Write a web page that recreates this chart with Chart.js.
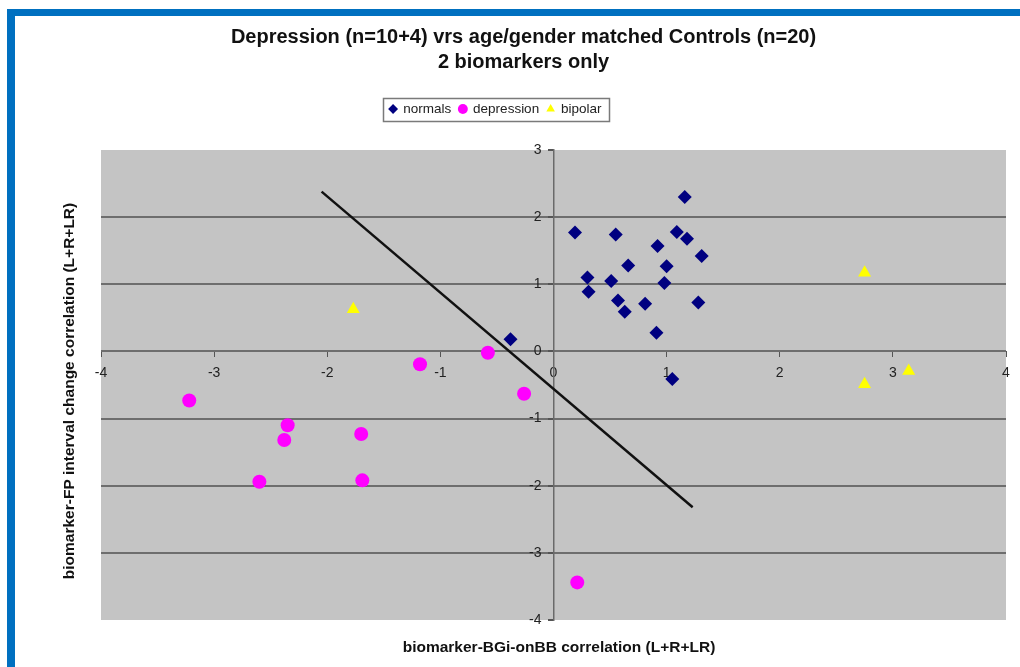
<!DOCTYPE html>
<html><head><meta charset="utf-8">
<script src="https://cdn.jsdelivr.net/npm/chart.js@4/dist/chart.umd.min.js"></script>
<style>
html,body{margin:0;padding:0;background:#fff;width:1020px;height:667px;overflow:hidden;}
#wrap{position:relative;width:1020px;height:667px;}
canvas{position:absolute;left:0;top:0;}
.bt{position:absolute;left:7px;top:9px;width:1013px;height:7px;background:#0070c0;}
.bl{position:absolute;left:7px;top:9px;width:8px;height:658px;background:#0070c0;}
</style></head><body>
<div id="wrap"><canvas id="c" width="1020" height="667"></canvas><div class="bt"></div><div class="bl"></div></div>
<script>
const titleLines = ['Depression (n=10+4) vrs age/gender matched Controls (n=20)', '2 biomarkers only'];
const xAxisTitle = 'biomarker-BGi-onBB correlation (L+R+LR)';
const yAxisTitle = 'biomarker-FP interval change correlation (L+R+LR)';
const seriesNames = ['normals', 'depression', 'bipolar'];
const xTicks = [-4, -3, -2, -1, 0, 1, 2, 3, 4];
const yTicks = [-4, -3, -2, -1, 0, 1, 2, 3];

const normalsX = [0.19, 0.55, 1.16, 1.09, 1.18, 0.92, 1.31, 0.66, 1.00, 0.30, 0.51, 0.98, 0.31, 0.57, 0.81, 1.28, 0.63, 0.91, 1.05, -0.38];
const normalsY = [1.77, 1.74, 2.30, 1.78, 1.68, 1.57, 1.42, 1.28, 1.27, 1.10, 1.05, 1.02, 0.89, 0.76, 0.71, 0.73, 0.59, 0.28, -0.41, 0.18];
const depressionX = [-1.18, -0.58, -0.26, -3.22, -2.35, -2.38, -1.70, -2.60, -1.69, 0.21];
const depressionY = [-0.19, -0.02, -0.63, -0.73, -1.10, -1.32, -1.23, -1.94, -1.92, -3.44];
const bipolarX = [-1.77, 2.75, 2.75, 3.14];
const bipolarY = [0.63, 1.17, -0.49, -0.29];
const lineX = [-2.05, 1.23];
const lineY = [2.38, -2.32];

const pts = (xs, ys) => xs.map((x, i) => ({x: x, y: ys[i]}));
const FONT = '"Liberation Sans", Arial, sans-serif';

const tweak = {
  id: 'tweak',
  afterLayout(chart) {
    const t = chart.titleBlock;
    t.left -= 30; t.right -= 30;
    const l = chart.legend;
    l.left -= 58; l.right -= 58; l.top -= 24.25; l.bottom -= 24.25;
  },
  beforeDraw(chart) {
    const a = chart.chartArea, ctx = chart.ctx;
    const items = chart.scales.y.getLabelItems();
    if (!items._shifted) {
      items.forEach(it => { it.options.translation[0] -= 12; });
      items._shifted = true;
    }
    ctx.save();
    ctx.fillStyle = '#c4c4c4';
    ctx.fillRect(a.left, a.top, a.right - a.left, a.bottom - a.top);
    ctx.restore();
  },
  afterDraw(chart) {
    const ctx = chart.ctx;
    const hb = chart.legend.legendHitBoxes;
    if (hb && hb.length) {
      const l = Math.min(...hb.map(h => h.left)) - 7;
      const r = Math.max(...hb.map(h => h.left + h.width)) + 7;
      const t = hb[0].top - 4.5;
      const b = hb[0].top + hb[0].height + 4.5;
      ctx.save();
      ctx.strokeStyle = '#7a7a7a';
      ctx.lineWidth = 1.5;
      ctx.strokeRect(Math.round(l) + 0.5, Math.round(t) + 0.5, Math.round(r - l), Math.round(b - t));
      ctx.restore();
    }
    ctx.save();
    ctx.fillStyle = '#111';
    ctx.font = 'bold 15.5px ' + FONT;
    ctx.textAlign = 'center';
    ctx.textBaseline = 'middle';
    ctx.fillText(xAxisTitle, 559, 648);
    ctx.translate(70, 391);
    ctx.rotate(-Math.PI / 2);
    ctx.fillText(yAxisTitle, 0, 0);
    ctx.restore();
  }
};

new Chart(document.getElementById('c'), {
  type: 'scatter',
  data: {
    datasets: [
      {label: seriesNames[0], data: pts(normalsX, normalsY), pointStyle: 'rectRot', pointRadius: 7,
       backgroundColor: '#000080', borderColor: '#000080', borderWidth: 0},
      {label: seriesNames[1], data: pts(depressionX, depressionY), pointStyle: 'circle', pointRadius: 7,
       backgroundColor: '#ff00ff', borderColor: '#ff00ff', borderWidth: 0},
      {label: seriesNames[2], data: pts(bipolarX, bipolarY), pointStyle: 'triangle', pointRadius: 7.5,
       backgroundColor: '#ffff00', borderColor: '#ffff00', borderWidth: 0},
      {type: 'line', label: 'separator', data: pts(lineX, lineY), showLine: true, pointRadius: 0,
       borderColor: '#111', borderWidth: 2.5, fill: false}
    ]
  },
  options: {
    responsive: false,
    animation: false,
    devicePixelRatio: 1,
    layout: {padding: {top: 0, left: 101, right: 14, bottom: 47}},
    scales: {
      x: {
        type: 'linear', position: {y: 0}, min: -4, max: 4,
        afterBuildTicks: s => { s.ticks = xTicks.map(v => ({value: v})); },
        grid: {display: true, drawOnChartArea: false, drawTicks: true, tickLength: 6, tickColor: '#555'},
        border: {display: false},
        ticks: {color: '#222', font: {family: FONT, size: 14}, padding: 7, maxRotation: 0, autoSkip: false}
      },
      y: {
        type: 'linear', position: {x: 0}, min: -4, max: 3,
        afterBuildTicks: s => { s.ticks = yTicks.map(v => ({value: v})); },
        grid: {
          color: c => (c.tick && (c.tick.value === 3 || c.tick.value === -4)) ? 'rgba(0,0,0,0)' : '#6e6e6e',
          lineWidth: 2, tickLength: 5, tickColor: '#555'
        },
        border: {display: true, color: '#6a6a6a', width: 1.5},
        ticks: {color: '#222', font: {family: FONT, size: 14}, padding: 7, autoSkip: false}
      }
    },
    plugins: {
      title: {
        display: true, text: titleLines, color: '#111',
        font: {family: FONT, size: 20, weight: 'bold', lineHeight: 1.25},
        padding: {top: 25, bottom: 43.5}
      },
      legend: {
        display: true, position: 'top',
        labels: {
          usePointStyle: true, boxWidth: 7, boxHeight: 7, padding: 8, color: '#222',
          font: {family: FONT, size: 13.5},
          filter: item => item.datasetIndex < 3
        }
      },
      tooltip: {enabled: false}
    }
  },
  plugins: [tweak]
});
</script>
</body></html>
